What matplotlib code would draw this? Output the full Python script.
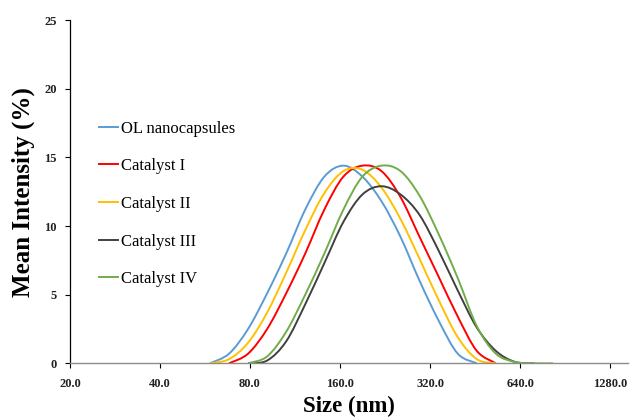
import numpy as np
import matplotlib.pyplot as plt
from matplotlib.path import Path
from matplotlib.patches import PathPatch
from matplotlib.lines import Line2D

# DLS size bins (nm) and intensity (%)
ol_size = [58.77, 68.06, 78.82, 91.28, 105.7, 122.4, 141.8, 164.2, 190.1, 220.2, 255.0, 295.3, 342.0, 396.1, 458.7]
ol_int = [0, 0.7, 2.5, 5.1, 8.0, 11.2, 13.6, 14.4, 13.6, 11.8, 9.2, 6.0, 3.1, 0.7, 0]

cat1_size = [68.06, 78.82, 91.28, 105.7, 122.4, 141.8, 164.2, 190.1, 220.2, 255.0, 295.3, 342.0, 396.1, 458.7, 531.2]
cat1_int = [0, 0.7, 2.5, 5.1, 8.0, 11.2, 13.6, 14.4, 14.0, 12.1, 9.2, 6.3, 3.4, 0.9, 0]

cat2_size = [58.77, 68.06, 78.82, 91.28, 105.7, 122.4, 141.8, 164.2, 190.1, 220.2, 255.0, 295.3, 342.0, 396.1, 458.7, 531.2]
cat2_int = [0, 0.3, 1.5, 3.7, 6.6, 9.7, 12.4, 14.0, 14.1, 12.8, 10.5, 7.6, 4.6, 1.9, 0.3, 0]

cat3_size = [78.82, 91.28, 105.7, 122.4, 141.8, 164.2, 190.1, 220.2, 255.0, 295.3, 342.0, 396.1, 458.7, 531.2, 615.1, 712.4]
cat3_int = [0, 0.2, 1.6, 4.3, 7.3, 10.3, 12.3, 12.9, 12.3, 10.8, 8.2, 5.3, 2.6, 0.9, 0.1, 0]

cat4_size = [78.82, 91.28, 105.7, 122.4, 141.8, 164.2, 190.1, 220.2, 255.0, 295.3, 342.0, 396.1, 458.7, 531.2, 615.1, 712.4, 825.0]
cat4_int = [0, 0.5, 2.3, 5.0, 8.0, 11.2, 13.6, 14.4, 14.0, 12.2, 9.4, 6.2, 2.7, 0.7, 0.1, 0, 0]

labels = ['OL nanocapsules', 'Catalyst I', 'Catalyst II', 'Catalyst III', 'Catalyst IV']
colors = ['#5B9BD5', '#FF0000', '#FFC000', '#404040', '#70AD47']

x_ticks = [20, 40, 80, 160, 320, 640, 1280]
x_ticklabels = ['20.0', '40.0', '80.0', '160.0', '320.0', '640.0', '1280.0']
y_ticks = [0, 5, 10, 15, 20, 25]


# Excel-style smoothed line: cubic bezier through the points (in log2 space)
def smooth_path(xs, ys, t=1 / 6):
    lx = np.log2(xs)
    ys = np.asarray(ys, dtype=float)
    verts = [(xs[0], ys[0])]
    codes = [Path.MOVETO]
    n = len(lx)
    for i in range(n - 1):
        x0, y0 = (lx[i - 1], ys[i - 1]) if i > 0 else (lx[i], ys[i])
        x1, y1 = lx[i], ys[i]
        x2, y2 = lx[i + 1], ys[i + 1]
        x3, y3 = (lx[i + 2], ys[i + 2]) if i + 2 < n else (x2, y2)
        c1 = (x1 + (x2 - x0) * t, y1 + (y2 - y0) * t)
        c2 = (x2 - (x3 - x1) * t, y2 - (y3 - y1) * t)
        verts += [(2 ** c1[0], c1[1]), (2 ** c2[0], c2[1]), (2 ** x2, y2)]
        codes += [Path.CURVE4] * 3
    return Path(verts, codes)


series = [(ol_size, ol_int), (cat1_size, cat1_int), (cat2_size, cat2_int),
          (cat3_size, cat3_int), (cat4_size, cat4_int)]

fig = plt.figure(figsize=(6.3, 4.2), dpi=100)
ax = fig.add_axes([0.111, 0.135, 0.886, 0.817])
ax.set_xscale('log', base=2)

handles = []
for (xs, ys), lab, c in zip(series, labels, colors):
    ax.add_patch(PathPatch(smooth_path(xs, ys), facecolor='none', edgecolor=c, linewidth=1.4))
    handles.append(Line2D([], [], color=c, linewidth=1.4, label=lab))

ax.set_xlim(20, 1470)
ax.set_ylim(0, 25)
ax.set_xticks(x_ticks)
ax.set_xticklabels(x_ticklabels)
ax.minorticks_off()
ax.set_yticks(y_ticks)

for s in ['top', 'right']:
    ax.spines[s].set_visible(False)
ax.spines['left'].set_color('black')
ax.spines['bottom'].set_color('#8c8c8c')
ax.spines['left'].set_linewidth(0.9)
ax.spines['bottom'].set_linewidth(1.0)

ax.tick_params(axis='both', direction='out', length=3.5, width=0.8, color='black')
ax.tick_params(axis='x', pad=7)
ax.tick_params(axis='y', pad=6)
for lab in ax.get_xticklabels() + ax.get_yticklabels():
    lab.set_fontfamily('Liberation Serif')
    lab.set_fontweight('bold')
    lab.set_fontsize(9)
    lab.set_color('#222222')

ax.set_xlabel('Size (nm)', fontfamily='Liberation Serif', fontweight='bold', fontsize=16.5, labelpad=4)
ax.set_ylabel('Mean Intensity (%)', fontfamily='Liberation Serif', fontweight='bold', fontsize=18, labelpad=7)

fig.legend(handles=handles, loc='upper left', bbox_to_anchor=(0.157, 0.713), frameon=False,
           prop={'family': 'Liberation Serif', 'size': 12}, handlelength=1.15, handletextpad=0.15,
           labelspacing=1.3, borderpad=0, borderaxespad=0)

fig.savefig('out.png', dpi=100)
